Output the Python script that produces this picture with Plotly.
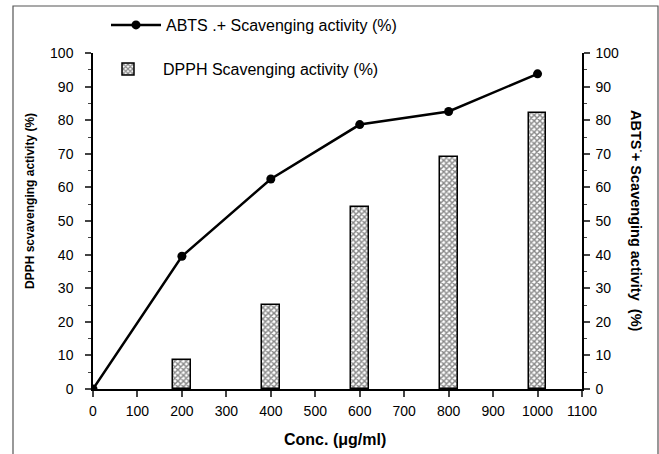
import plotly.graph_objects as go

conc = [0, 200, 400, 600, 800, 1000]
abts = [0, 39.5, 62.5, 78.7, 82.6, 93.8]
bar_conc = [200, 400, 600, 800, 1000]
dpph = [8.6, 25.0, 54.2, 69.1, 82.2]

x_ticks = list(range(0, 1101, 100))
y_ticks = list(range(0, 101, 10))

FONT = "Liberation Sans, Arial, sans-serif"

fig = go.Figure()
fig.add_trace(go.Bar(
    x=bar_conc, y=dpph, width=40,
    name="DPPH Scavenging activity (%)",
    marker=dict(color="white", line=dict(color="black", width=1.5),
                pattern=dict(shape="x", size=4, solidity=0.6, fgcolor="#111", bgcolor="white")),
    legend="legend2",
))
fig.add_trace(go.Scatter(
    x=conc, y=abts, mode="lines+markers",
    name="ABTS .+ Scavenging activity (%)",
    line=dict(color="black", width=2.5),
    marker=dict(color="black", size=9),
    legend="legend",
))

W, H = 659, 454
L, R, T, B = 93, 77, 53, 65
pw, ph = W - L - R, H - T - B

def px(xp):
    return (xp - L) / pw

def py(yp):
    return (H - B - yp) / ph

axis_common = dict(range=[0, 100], tickvals=y_ticks, ticks="outside", ticklen=6, tickwidth=1.5,
                   showline=True, linecolor="black", linewidth=1.5, showgrid=False, zeroline=False,
                   tickfont=dict(size=14),
                   minor=dict(dtick=5, ticks="outside", ticklen=3, tickwidth=1.2))

fig.update_layout(
    width=W, height=H,
    margin=dict(l=L, r=R, t=T, b=B, autoexpand=False),
    paper_bgcolor="white", plot_bgcolor="white",
    font=dict(family=FONT, size=14, color="black"),
    xaxis=dict(range=[0, 1100], tickvals=x_ticks, ticks="outside", ticklen=6, tickwidth=1.5,
               showline=True, linecolor="black", linewidth=1.5, showgrid=False, zeroline=False,
               tickfont=dict(size=14), ticklabelstandoff=2),
    yaxis=dict(**axis_common, ticklabelstandoff=9),
    yaxis2=dict(**axis_common, overlaying="y", side="right", ticklabelstandoff=3),
    showlegend=True,
    legend=dict(x=106 / W, y=1 - 8 / H, xref="container", yref="container",
                xanchor="left", yanchor="top", bgcolor="rgba(0,0,0,0)",
                font=dict(size=16), itemwidth=50),
    legend2=dict(x=93 / W, y=1 - 52 / H, xref="container", yref="container",
                 xanchor="left", yanchor="top", bgcolor="rgba(0,0,0,0)",
                 font=dict(size=16), itemwidth=60),
    bargap=0,
)
# trace to show right axis
fig.add_trace(go.Scatter(x=[None], y=[None], yaxis="y2", showlegend=False, hoverinfo="skip"))

fig.add_annotation(text="<b>DPPH scvavenging activity (%)</b>", textangle=-90,
                   x=px(30), y=py(201), xref="paper", yref="paper", showarrow=False,
                   xanchor="center", yanchor="middle", font=dict(size=12))
fig.add_annotation(text="<b>ABTS<sup>·</sup>+ Scavenging activity  (%)</b>", textangle=90,
                   x=px(637), y=py(221), xref="paper", yref="paper", showarrow=False,
                   xanchor="center", yanchor="middle", font=dict(size=14.5))
fig.add_annotation(text="<b>Conc. (μg/ml)</b>",
                   x=px(335), y=py(440), xref="paper", yref="paper", showarrow=False,
                   xanchor="center", yanchor="middle", font=dict(size=16))
fig.add_shape(type="path", xref="paper", yref="paper",
              path=f"M {px(13)},{py(470)} L {px(13)},{py(6)} L {px(658)},{py(6)} L {px(658)},{py(470)}",
              line=dict(color="#555", width=1.2))

fig.write_html("out.html")
